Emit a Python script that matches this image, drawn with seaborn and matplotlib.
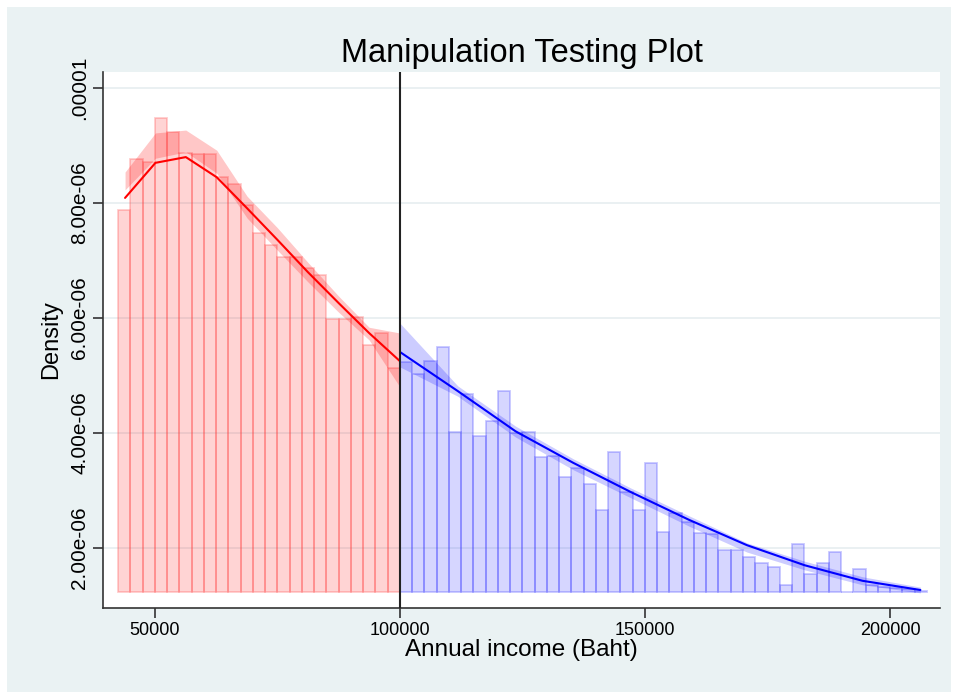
import numpy as np
import pandas as pd
import seaborn as sns
import matplotlib.pyplot as plt
from matplotlib.patches import Rectangle

# Histogram bar heights (density, in units of 1e-6), bins of 2500 Baht
left_bins_start = 42500
right_bins_start = 100000
bin_width = 2500
left_heights = [7.88, 8.77, 8.71, 9.48, 9.23, 8.87, 8.85, 8.85, 8.45, 8.33,
                7.97, 7.48, 7.27, 7.06, 7.06, 6.87, 6.75, 5.98, 5.98, 6.02,
                5.53, 5.74, 5.13]
right_heights = [5.23, 5.03, 5.25, 5.50, 4.02, 4.68, 3.95, 4.21, 4.73, 4.00,
                 4.02, 3.58, 3.60, 3.23, 3.39, 3.11, 2.66, 3.67, 2.97, 2.66,
                 3.48, 2.28, 2.61, 2.45, 2.26, 2.24, 1.97, 1.97, 1.84, 1.74,
                 1.67, 1.36, 2.07, 1.55, 1.74, 1.93, 1.23, 1.63, 1.36, 1.32,
                 1.30, 1.29, 1.25]

# Local polynomial density estimates and confidence bands (1e-6)
left_grid = [43900, 50100, 56300, 62600, 68800, 75000, 81200, 87500, 93700, 100000]
left_fit = [8.09, 8.70, 8.80, 8.45, 7.91, 7.36, 6.80, 6.26, 5.74, 5.25]
left_ci_hi = [8.54, 9.22, 9.27, 8.92, 8.12, 7.57, 6.97, 6.38, 5.84, 5.74]
left_ci_lo = [8.23, 8.78, 8.89, 8.52, 7.74, 7.18, 6.63, 6.10, 5.62, 4.80]

right_grid = [100000, 111800, 123600, 135400, 147200, 159000, 170800, 182600, 194400, 206200]
right_fit = [5.41, 4.73, 4.03, 3.48, 2.97, 2.49, 2.05, 1.70, 1.43, 1.27]
right_ci_hi = [5.91, 4.82, 4.12, 3.55, 3.04, 2.56, 2.09, 1.77, 1.50, 1.32]
right_ci_lo = [5.15, 4.64, 3.93, 3.36, 2.87, 2.38, 1.93, 1.62, 1.36, 1.22]

cutoff = 100000
ytick_vals = [2e-6, 4e-6, 6e-6, 8e-6, 1e-5]
ytick_labels = ['2.00e-06', '4.00e-06', '6.00e-06', '8.00e-06', '.00001']
xtick_vals = [50000, 100000, 150000, 200000]

sc = 1e-6
left = pd.DataFrame({'x': left_grid, 'f': np.array(left_fit) * sc,
                     'hi': np.array(left_ci_hi) * sc, 'lo': np.array(left_ci_lo) * sc})
right = pd.DataFrame({'x': right_grid, 'f': np.array(right_fit) * sc,
                      'hi': np.array(right_ci_hi) * sc, 'lo': np.array(right_ci_lo) * sc})
lh = np.array(left_heights) * sc
rh = np.array(right_heights) * sc
base = min(lh.min(), rh.min())

sns.set_theme(style='white')
plt.rcParams['font.family'] = ['Liberation Sans', 'DejaVu Sans']
plt.rcParams['text.color'] = 'black'
plt.rcParams['axes.labelcolor'] = 'black'

fig = plt.figure(figsize=(9.58, 6.99), dpi=100)
fig.patches.append(Rectangle((7 / 958, 7 / 699), 944 / 958, 685 / 699,
                             transform=fig.transFigure, facecolor='#eaf2f3',
                             edgecolor='none', zorder=-10))
ax = fig.add_axes([103 / 958, 1 - 608 / 699, 837 / 958, 536 / 699])
ax.set_facecolor('white')

for y in ytick_vals:
    ax.axhline(y, color='#e6eef0', lw=1.2, zorder=0)

# histograms
lx = left_bins_start + bin_width * np.arange(len(lh))
rx = right_bins_start + bin_width * np.arange(len(rh))
ax.bar(lx, lh - base, width=bin_width, bottom=base, align='edge',
       color=(1, 0, 0, 0.17), edgecolor=(1, 0.2, 0.2, 0.25), linewidth=1.3, zorder=1)
ax.bar(rx, rh - base, width=bin_width, bottom=base, align='edge',
       color=(0.2, 0.2, 1, 0.2), edgecolor=(0.2, 0.2, 1, 0.27), linewidth=1.3, zorder=1)

# confidence bands
ax.fill_between(left['x'], left['lo'], left['hi'], color=(1, 0, 0, 0.22), lw=0, zorder=2)
ax.fill_between(right['x'], right['lo'], right['hi'], color=(0, 0, 1, 0.2), lw=0, zorder=2)

# density estimates
sns.lineplot(data=left, x='x', y='f', color='red', lw=1.5, ax=ax, zorder=3)
sns.lineplot(data=right, x='x', y='f', color='blue', lw=1.5, ax=ax, zorder=3)

ax.axvline(cutoff, color='#222222', lw=1.5, zorder=4)

ax.set_xlim(39400, 210200)
ax.set_ylim(0.957e-6, 10.28e-6)
ax.set_xticks(xtick_vals)
ax.set_xticklabels([str(v) for v in xtick_vals])
ax.set_yticks(ytick_vals)
ax.set_yticklabels(ytick_labels, rotation=90, va='center')
ax.tick_params(axis='both', direction='out', length=7, width=1.2, color='#333333',
               labelcolor='black', bottom=True, left=True, pad=3)
ax.tick_params(axis='x', labelsize=13)
ax.tick_params(axis='y', labelsize=15)
for s in ['top', 'right']:
    ax.spines[s].set_visible(False)
for s in ['left', 'bottom']:
    ax.spines[s].set_color('#333333')
    ax.spines[s].set_linewidth(1.2)

ax.set_xlabel('Annual income (Baht)', fontsize=17.5, labelpad=0)
ax.set_ylabel('Density', fontsize=17, labelpad=6)
ax.set_title('Manipulation Testing Plot', fontsize=23.5, pad=7)

fig.savefig('out.png', dpi=100)
